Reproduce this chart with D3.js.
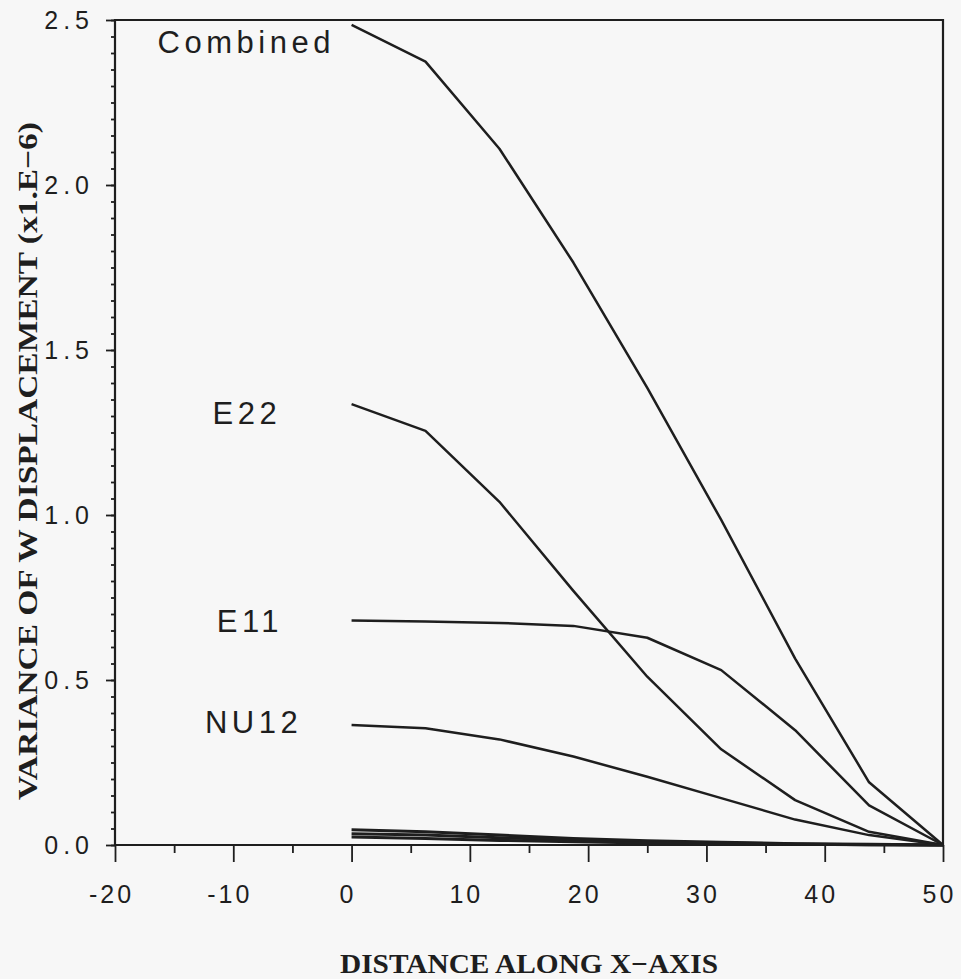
<!DOCTYPE html>
<html>
<head>
  <title>Variance of W displacement</title>
  <style>
    body { margin: 0; background: #f7f7f7; }
    svg { display: block; }
  </style>
</head>
<body>
  <svg width="961" height="979"></svg>

  <script src="https://unpkg.com/d3@7/dist/d3.min.js"></script>
  <script type="text/javascript">
    // distance along x-axis where each curve was sampled
    var distance = [0, 6.25, 12.5, 18.75, 25, 31.25, 37.5, 43.75, 50]

    var combined = [2.485, 2.374, 2.11, 1.765, 1.385, 0.985, 0.565, 0.19, 0]
    var e22 = [1.336, 1.255, 1.04, 0.77, 0.51, 0.29, 0.136, 0.04, 0]
    var e11 = [0.68, 0.677, 0.673, 0.664, 0.628, 0.53, 0.348, 0.12, 0]
    var nu12 = [0.364, 0.354, 0.32, 0.268, 0.207, 0.142, 0.077, 0.03, 0]
    // three small unlabelled contributions hugging the baseline
    var otherA = [0.046, 0.040, 0.030, 0.020, 0.013, 0.008, 0.004, 0.002, 0]
    var otherB = [0.034, 0.030, 0.022, 0.015, 0.010, 0.006, 0.003, 0.001, 0]
    var otherC = [0.024, 0.020, 0.014, 0.010, 0.006, 0.004, 0.002, 0.001, 0]

    var seriesNames = ['Combined', 'E22', 'E11', 'NU12', '', '', '']
    var seriesValues = [combined, e22, e11, nu12, otherA, otherB, otherC]

    var xTicks = [-20, -10, 0, 10, 20, 30, 40, 50]
    var yTicks = [0, 0.5, 1.0, 1.5, 2.0, 2.5]

    // note: "top" is reserved on window, so plot edges get their own names
    var svg = d3.select('svg'),
      plotLeft = 115, plotTop = 20, plotRight = 943, plotBottom = 845

    var x = d3.scaleLinear().domain([-20, 50]).range([plotLeft, plotRight])
    var y = d3.scaleLinear().domain([0, 2.5]).range([plotBottom, plotTop])

    var ink = '#1e1e1e'
    var numFont = '"Liberation Sans", Arial, sans-serif'
    var titleFont = '"Liberation Serif", "Times New Roman", serif'

    // minor ticks first so the major axis draws over them
    svg.append('g')
      .attr('transform', 'translate(' + plotLeft + ',0)')
      .call(d3.axisLeft(y).tickValues(d3.range(0, 2.501, 0.05)).tickSize(4).tickFormat(''))
    svg.append('g')
      .attr('transform', 'translate(0,' + plotBottom + ')')
      .call(d3.axisBottom(x).tickValues(d3.range(-15, 50, 10)).tickSize(8).tickFormat(''))

    var yAxis = svg.append('g')
      .attr('transform', 'translate(' + plotLeft + ',0)')
      .call(d3.axisLeft(y).tickValues(yTicks).tickSize(9).tickPadding(12).tickFormat(d3.format('.1f')))

    var xAxis = svg.append('g')
      .attr('transform', 'translate(0,' + plotBottom + ')')
      .call(d3.axisBottom(x).tickValues(xTicks).tickSize(17).tickPadding(23).tickFormat(d => String(d)))

    svg.selectAll('.domain').remove()
    svg.selectAll('.tick line').attr('stroke', ink).attr('stroke-width', 1.8)
    svg.selectAll('.tick text')
      .attr('fill', ink)
      .style('font-family', numFont)
      .style('font-size', '25px')
    yAxis.selectAll('.tick text').style('letter-spacing', '5px')
    xAxis.selectAll('.tick text').style('letter-spacing', '3px').attr('dx', '-4px')

    // frame: left, bottom, top and right edges
    svg.append('path')
      .attr('d', 'M' + plotLeft + ',' + plotTop + 'V' + plotBottom + 'H' + plotRight + 'V' + plotTop + 'Z')
      .attr('fill', 'none')
      .attr('stroke', ink)
      .attr('stroke-width', 2.2)

    var line = d3.line()
      .x((d, i) => x(distance[i]))
      .y(d => y(d))

    svg.selectAll('.curve')
      .data(seriesValues).enter()
      .append('path')
      .attr('class', 'curve')
      .attr('d', d => line(d))
      .attr('fill', 'none')
      .attr('stroke', ink)
      .attr('stroke-width', (d, i) => i < 4 ? 2.5 : 3)
      .attr('stroke-linejoin', 'round')

    // curve labels, placed in data units to the left of each curve
    var labelSpots = [[-16.4, 2.40], [-11.75, 1.275], [-11.4, 0.645], [-12.4, 0.34]]
    svg.selectAll('.label')
      .data(labelSpots).enter()
      .append('text')
      .attr('class', 'label')
      .attr('x', d => x(d[0]))
      .attr('y', d => y(d[1]))
      .text((d, i) => seriesNames[i])
      .attr('fill', ink)
      .style('font-family', numFont)
      .style('font-size', '31px')
      .style('letter-spacing', '4.5px')

    svg.append('text')
      .attr('x', 529)
      .attr('y', 973)
      .attr('text-anchor', 'middle')
      .attr('textLength', 378)
      .attr('lengthAdjust', 'spacingAndGlyphs')
      .attr('fill', ink)
      .style('font-family', titleFont)
      .style('font-weight', 'bold')
      .style('font-size', '28px')
      .text('DISTANCE ALONG X\u2212AXIS')

    svg.append('text')
      .attr('transform', 'translate(37,461) rotate(-90)')
      .attr('text-anchor', 'middle')
      .attr('textLength', 678)
      .attr('lengthAdjust', 'spacingAndGlyphs')
      .attr('fill', ink)
      .style('font-family', titleFont)
      .style('font-weight', 'bold')
      .style('font-size', '27px')
      .text('VARIANCE OF W DISPLACEMENT (x1.E\u22126)')
  </script>
</body>
</html>
